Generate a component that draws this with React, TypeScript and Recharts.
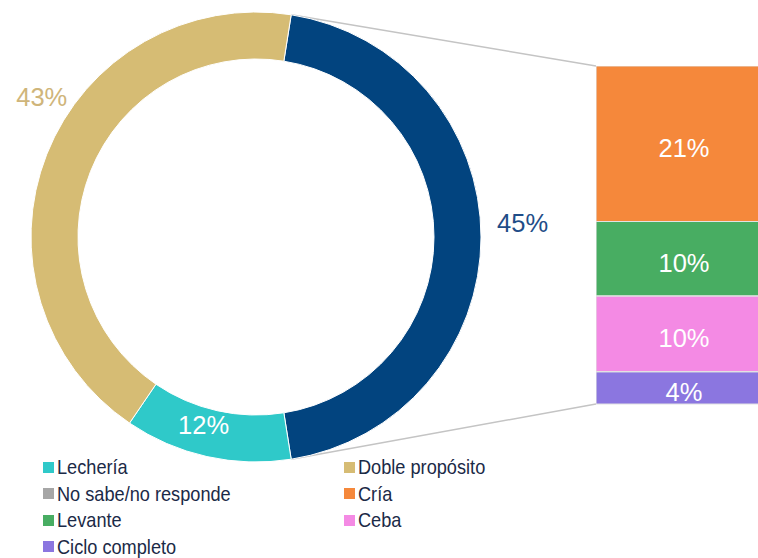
import { PieChart, Pie, Cell, BarChart, Bar, XAxis, YAxis, LabelList } from "recharts"

// donut: the "otros" slice is broken out in the stacked bar on the right
const pieNames = ["Otros", "Lechería", "Doble propósito"]
const pieValues = [45, 12, 43]
const pieColors = ["#02447f", "#2fc9c9", "#d6bc74"]

// stacked bar, bottom to top
const barKeys = ["ciclo", "ceba", "levante", "cria"]
const barNames = ["Ciclo completo", "Ceba", "Levante", "Cría"]
const barValues = [4.3, 10.1, 9.9, 20.7]
const barColors = ["#8b76e0", "#f48ae4", "#48ad62", "#f5883b"]

const legendNames = [
  "Lechería",
  "Doble propósito",
  "No sabe/no responde",
  "Cría",
  "Levante",
  "Ceba",
  "Ciclo completo",
]
const legendColors = ["#2fc9c9", "#d6bc74", "#a6a6a6", "#f5883b", "#48ad62", "#f48ae4", "#8b76e0"]

const pieData = pieNames.map((name, i) => ({ name, value: pieValues[i] }))
const barRow: Record<string, number | string> = { name: "Otros" }
barKeys.forEach((k, i) => (barRow[k] = barValues[i]))
const barData = [barRow]

const W = 758
const H = 558
const CX = 256
const CY = 237
const R_OUT = 225
const R_IN = 178
const START = 81
const BAR_LEFT = 596
const BAR_TOP = 66
const BAR_W = 176
const BAR_H = 338
const BAR_PAD = 12 // room under the bar so the last label is not clipped
const FONT = "'Liberation Sans', Arial, sans-serif"

const RAD = Math.PI / 180
// label radius / angle nudge per slice
const labelPlace = [
  { r: 267, shift: 3, color: "#1f4d88" },
  { r: 195, shift: -3, color: "#ffffff" },
  { r: 256, shift: -11.6, color: "#cfb57a" },
]

const renderPieLabel = (props: any) => {
  const { cx, cy, midAngle, index, value } = props
  const p = labelPlace[index]
  const a = (midAngle + p.shift) * RAD
  const x = cx + p.r * Math.cos(a)
  const y = cy - p.r * Math.sin(a)
  return (
    <text x={x} y={y} fill={p.color} fontSize={25.5} fontFamily={FONT} textAnchor="middle" dominantBaseline="central">
      {`${value}%`}
    </text>
  )
}

export default function App() {
  const otrosSpan = (pieValues[0] / pieValues.reduce((a, b) => a + b, 0)) * 360
  const topPt = { x: CX + R_OUT * Math.cos(START * RAD), y: CY - R_OUT * Math.sin(START * RAD) }
  const botAng = (START - otrosSpan) * RAD
  const botPt = { x: CX + R_OUT * Math.cos(botAng), y: CY - R_OUT * Math.sin(botAng) }

  return (
    <div style={{ position: "absolute", left: 0, top: 0, width: W, height: H, overflow: "hidden", background: "#fff" }}>
      <svg width={W} height={H} style={{ position: "absolute", left: 0, top: 0 }}>
        <line x1={topPt.x} y1={topPt.y} x2={BAR_LEFT} y2={BAR_TOP} stroke="#c4c4c4" strokeWidth={1.5} />
        <line x1={botPt.x} y1={botPt.y} x2={BAR_LEFT} y2={BAR_TOP + BAR_H} stroke="#c4c4c4" strokeWidth={1.5} />
      </svg>

      <div style={{ position: "absolute", left: 0, top: 0 }}>
        <PieChart width={560} height={480} margin={{ top: 0, right: 0, bottom: 0, left: 0 }}>
          <Pie
            data={pieData}
            dataKey="value"
            cx={CX}
            cy={CY}
            innerRadius={R_IN}
            outerRadius={R_OUT}
            startAngle={START}
            endAngle={START - 360}
            stroke="#ffffff"
            strokeWidth={1}
            label={renderPieLabel}
            labelLine={false}
            isAnimationActive={false}
          >
            {pieData.map((d, i) => (
              <Cell key={d.name} fill={pieColors[i]} />
            ))}
          </Pie>
        </PieChart>
      </div>

      <div style={{ position: "absolute", left: BAR_LEFT, top: BAR_TOP }}>
        <BarChart
          width={BAR_W}
          height={BAR_H + BAR_PAD}
          data={barData}
          margin={{ top: 0, right: 0, bottom: BAR_PAD, left: 0 }}
          barCategoryGap={0}
          style={{ overflow: "visible" }}
        >
          <XAxis dataKey="name" hide />
          <YAxis hide domain={[0, 45]} />
          {barKeys.map((k, i) => (
            <Bar
              key={k}
              dataKey={k}
              name={barNames[i]}
              stackId="otros"
              fill={barColors[i]}
              stroke="#e2e2e2"
              strokeWidth={1.2}
              isAnimationActive={false}
            >
              <LabelList
                dataKey={k}
                position="center"
                fill="#ffffff"
                fontSize={25.5}
                fontFamily={FONT}
                dy={4}
                formatter={(v: any) => `${Math.round(Number(v))}%`}
              />
            </Bar>
          ))}
        </BarChart>
      </div>

      <div
        style={{
          position: "absolute",
          left: 43,
          top: 454,
          display: "grid",
          gridTemplateColumns: "301px 300px",
          gridAutoRows: "26.5px",
          fontFamily: FONT,
          fontSize: 21,
          color: "#1b2a47",
        }}
      >
        {legendNames.map((n, i) => (
          <div key={n} style={{ display: "flex", alignItems: "center", whiteSpace: "nowrap" }}>
            <span style={{ width: 11, height: 11, background: legendColors[i], marginRight: 3, display: "inline-block" }} />
            <span style={{ display: "inline-block", transform: "scaleX(0.865)", transformOrigin: "left center" }}>{n}</span>
          </div>
        ))}
      </div>
    </div>
  )
}
